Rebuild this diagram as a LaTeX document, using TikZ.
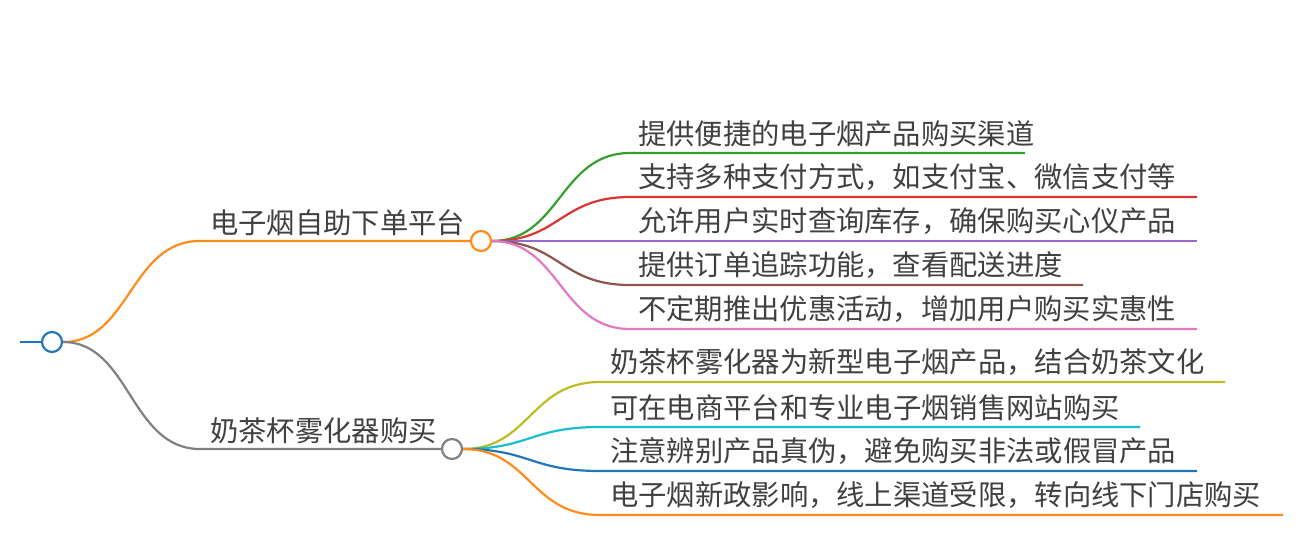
\documentclass[tikz,border=0pt]{standalone}
\usepackage{fontspec}
\setmainfont{Noto Sans CJK SC}
\begin{document}
\begin{tikzpicture}[x=1pt,y=-1pt,
  br/.style={line width=2.2pt},
  lab/.style={anchor=south west,inner sep=0pt,font=\fontsize{28.3}{28}\selectfont,text=black!75},
  dot/.style={circle,draw,line width=2.2pt,fill=white,minimum size=20pt,inner sep=0pt}]
\useasboundingbox (0,0) rectangle (1303,555);
\definecolor{cO}{HTML}{FF8C1A}\definecolor{cG}{HTML}{808080}\definecolor{cB}{HTML}{2277BB}
\definecolor{c1}{HTML}{33A02C}\definecolor{c2}{HTML}{DD3333}\definecolor{c3}{HTML}{9966CC}
\definecolor{c4}{HTML}{8C564B}\definecolor{c5}{HTML}{E377C2}\definecolor{c6}{HTML}{BCBD22}
\definecolor{c7}{HTML}{17BECF}\definecolor{c8}{HTML}{2277BB}\definecolor{c9}{HTML}{FF8C1A}
\coordinate (s) at (20,342);
\node[dot,draw=cB] (r) at (52,342) {};
\draw[br,cB] (s) -- (r);
\coordinate (a0) at (200,241); \coordinate (a1) at (471,241);
\coordinate (b0) at (200,449); \coordinate (b1) at (442,449);
\draw[br,cO] (r.east) .. controls (130,342) and (130,241) .. (a0) -- (a1);
\draw[br,cG] (r.east) .. controls (130,342) and (130,449) .. (b0) -- (b1);
\node[lab] (at) at (210,236) {电子烟自助下单平台};
\node[lab] (bt) at (210,444) {奶茶杯雾化器购买};
\node[dot,draw=cO] (A) at (481,241) {};
\node[dot,draw=cG] (B) at (452,449) {};
\foreach \y/\e/\c/\t [count=\i] in {153/1025/c1/提供便捷的电子烟产品购买渠道,197/1197/c2/支持多种支付方式，如支付宝、微信支付等,241/1197/c3/允许用户实时查询库存，确保购买心仪产品,285/1083/c4/提供订单追踪功能，查看配送进度,329/1197/c5/不定期推出优惠活动，增加用户购买实惠性}{
  \coordinate (p\i) at (630,\y); \coordinate (q\i) at (\e,\y);
  \draw[br,\c] (A.east) .. controls (560,241) and (560,\y) .. (p\i) -- (q\i);
  \node[lab] (ta\i) at (638,\y-6) {\t};
}
\foreach \y/\e/\c/\t [count=\i] in {382/1225/c6/奶茶杯雾化器为新型电子烟产品，结合奶茶文化,427/1140/c7/可在电商平台和专业电子烟销售网站购买,471/1197/c8/注意辨别产品真伪，避免购买非法或假冒产品,515/1283/c9/电子烟新政影响，线上渠道受限，转向线下门店购买}{
  \coordinate (u\i) at (600,\y); \coordinate (v\i) at (\e,\y);
  \draw[br,\c] (B.east) .. controls (530,449) and (530,\y) .. (u\i) -- (v\i);
  \node[lab] (tb\i) at (610,\y-6) {\t};
}
\end{tikzpicture}
\end{document}
